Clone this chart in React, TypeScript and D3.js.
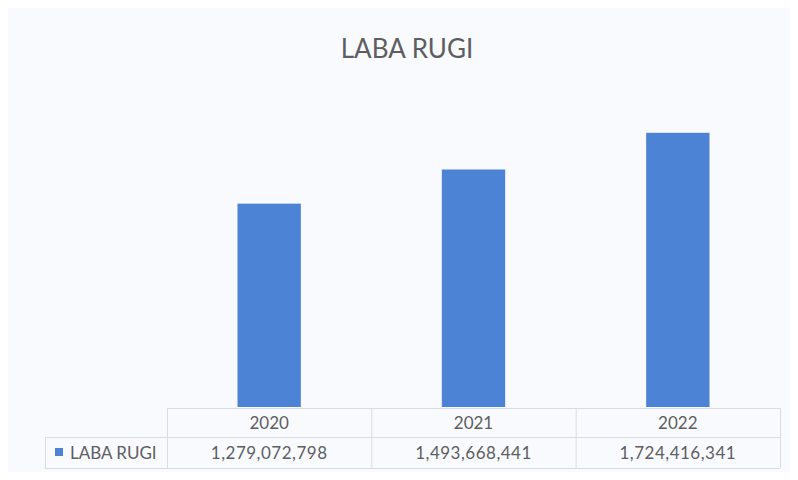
import { useEffect, useRef } from "react";
import * as d3 from "d3";

const years = ["2020", "2021", "2022"];
const labaRugi = [1279072798, 1493668441, 1724416341];
const seriesName = "LABA RUGI";
const chartTitle = "LABA RUGI";

const W = 798;
const H = 480;
const FONT = "Lato, 'Open Sans', sans-serif";
const TEXT = "#5e5e62";
const GRID = "#d9dce3";
const BAR = "#4c83d4";

export default function App() {
  const svgRef = useRef<SVGSVGElement | null>(null);

  useEffect(() => {
    const svg = d3.select(svgRef.current);
    svg.selectAll("*").remove();

    // background + chart border
    svg.append("rect").attr("width", W).attr("height", H).attr("fill", "#fdfeff");
    svg.append("rect")
      .attr("x", 6.5).attr("y", 5.5)
      .attr("width", W + 10).attr("height", 472)
      .attr("fill", "#f8fafd")
      .attr("stroke", "#d6d9e0");

    // title
    svg.append("text")
      .attr("x", 407).attr("y", 58)
      .attr("text-anchor", "middle")
      .attr("fill", TEXT)
      .attr("font-family", FONT)
      .attr("font-size", 26)
      .text(chartTitle);

    const left = 167, right = 780, plotTop = 89, plotBottom = 407;
    const x = d3.scaleBand<string>().domain(years).range([left, right]).paddingInner(0.69).paddingOuter(0.345);
    const y = d3.scaleLinear().domain([0, 2e9]).range([plotBottom, plotTop]);

    svg.append("g")
      .selectAll("rect")
      .data(years)
      .join("rect")
      .attr("x", d => x(d)!)
      .attr("y", (_, i) => y(labaRugi[i]))
      .attr("width", x.bandwidth())
      .attr("height", (_, i) => plotBottom - y(labaRugi[i]))
      .attr("fill", BAR);

    // data table
    const cols = d3.scaleBand<string>().domain(years).range([left, right]);
    const rowTop = 408, rowMid = 437, rowBot = 468, legendLeft = 45;
    const t = svg.append("g").attr("stroke", GRID).attr("fill", "none");
    t.append("line").attr("x1", left).attr("x2", right).attr("y1", rowTop + 0.5).attr("y2", rowTop + 0.5);
    t.append("line").attr("x1", legendLeft).attr("x2", right).attr("y1", rowMid + 0.5).attr("y2", rowMid + 0.5);
    t.append("line").attr("x1", legendLeft).attr("x2", right).attr("y1", rowBot + 0.5).attr("y2", rowBot + 0.5);
    t.append("line").attr("x1", legendLeft + 0.5).attr("x2", legendLeft + 0.5).attr("y1", rowMid).attr("y2", rowBot);
    [...years.map(d => cols(d)!), right].forEach(xx => {
      t.append("line").attr("x1", xx + 0.5).attr("x2", xx + 0.5).attr("y1", rowTop).attr("y2", rowBot);
    });

    const fmt = d3.format(",");
    svg.append("g")
      .selectAll("text.yr")
      .data(years)
      .join("text")
      .attr("class", "yr")
      .attr("x", d => cols(d)! + cols.bandwidth() / 2)
      .attr("y", 429)
      .attr("text-anchor", "middle")
      .attr("fill", TEXT)
      .attr("font-family", FONT)
      .attr("font-size", 17)
      .text(d => d);

    svg.append("g")
      .selectAll("text.val")
      .data(years)
      .join("text")
      .attr("class", "val")
      .attr("x", d => cols(d)! + cols.bandwidth() / 2)
      .attr("y", 459)
      .attr("text-anchor", "middle")
      .attr("fill", TEXT)
      .attr("font-family", FONT)
      .attr("font-size", 17)
      .attr("letter-spacing", 0.5)
      .text((_, i) => fmt(labaRugi[i]));

    // legend key
    svg.append("rect").attr("x", 55).attr("y", 448).attr("width", 8).attr("height", 8).attr("fill", BAR);
    svg.append("text")
      .attr("x", 70).attr("y", 459)
      .attr("fill", TEXT)
      .attr("font-family", FONT)
      .attr("font-size", 17)
      .text(seriesName);
  }, []);

  return (
    <div style={{ margin: -8, width: W, height: H, overflow: "hidden" }}>
      <svg ref={svgRef} width={W} height={H} style={{ display: "block" }} />
    </div>
  );
}
